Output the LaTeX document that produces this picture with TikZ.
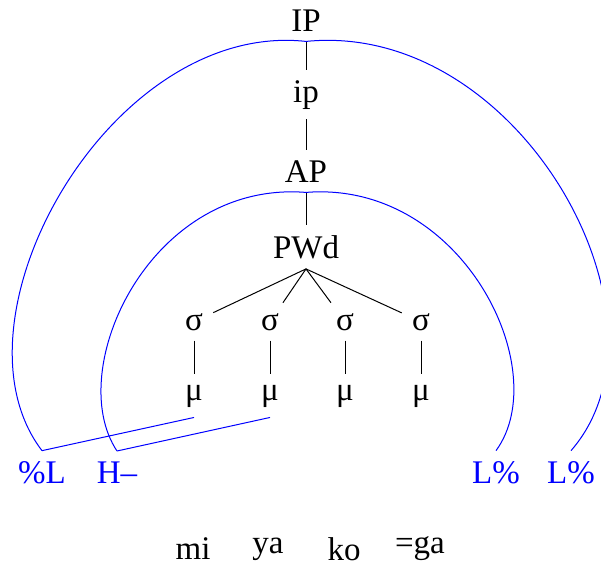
\documentclass[tikz,border=0pt]{standalone}
\usepackage{fontspec}
\setmainfont{Liberation Serif}
\begin{document}
\begin{tikzpicture}[x=0.5pt,y=-0.5pt,
  lab/.style={anchor=base,inner sep=5pt,font=\fontsize{16.5}{20}\selectfont},
  tone/.style={lab,text=blue},
  word/.style={anchor=center,inner sep=0.5pt,font=\fontsize{16.5}{20}\selectfont},
  edge/.style={line width=0.5pt},
  assoc/.style={blue,line width=0.5pt}]
\useasboundingbox (0,0) rectangle (601,564);
% tree
\node[lab] (IP) at (306,31) {IP};
\node[lab] (ip) at (306,102) {ip};
\node[lab] (AP) at (306,182) {AP};
\node[lab] (PWd) at (306,258) {PWd};
\node[lab] (s1) at (194,330) {σ};
\node[lab] (s2) at (270,330) {σ};
\node[lab] (s3) at (345,330) {σ};
\node[lab] (s4) at (421,330) {σ};
\node[lab] (m1) at (194,400) {μ};
\node[lab] (m2) at (270,400) {μ};
\node[lab] (m3) at (345,400) {μ};
\node[lab] (m4) at (421,400) {μ};
% tones
\node[tone] (tL) at (42,483) {\%L};
\node[tone] (tH) at (117,483) {H–};
\node[tone] (tA) at (496,483) {L\%};
\node[tone] (tB) at (571,483) {L\%};
% words
\node[word] (w1) at (193,549) {mi};
\node[word] (w2) at (268,549) {ya};
\node[word] (w3) at (344,549) {ko};
\node[word] (w4) at (420,549) {=ga};
% edges
\draw[edge] (IP) -- (ip);
\draw[edge] (ip) -- (AP);
\draw[edge] (AP) -- (PWd);
\foreach \s in {s1,s2,s3,s4} \draw[edge] (PWd.south) -- (\s);
\draw[edge] (s1) -- (m1);
\draw[edge] (s2) -- (m2);
\draw[edge] (s3) -- (m3);
\draw[edge] (s4) -- (m4);
% associations
\draw[assoc] (m1.south) -- (tL.north);
\draw[assoc] (m2.south) -- (tH.north);
\draw[assoc] (IP.south) .. controls (110,20) and (-58,320) .. (tL.north);
\draw[assoc] (IP.south) .. controls (520,20) and (685,320) .. (tB.north);
\draw[assoc] (AP.south) .. controls (150,180) and (63,370) .. (tH.north);
\draw[assoc] (AP.south) .. controls (462,180) and (555,370) .. (tA.north);
\end{tikzpicture}
\end{document}
